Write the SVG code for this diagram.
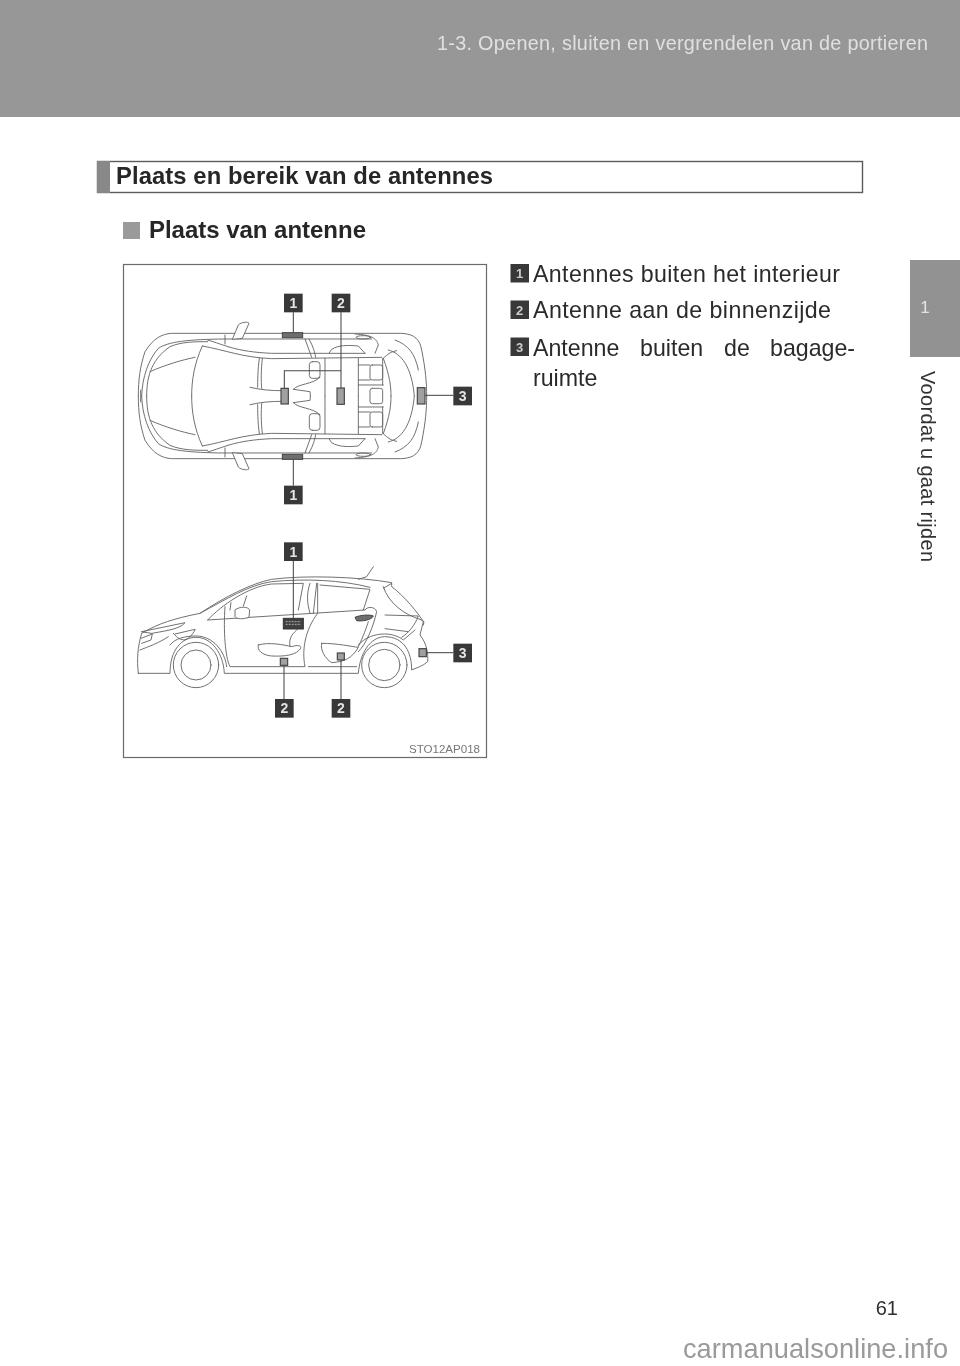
<svg xmlns="http://www.w3.org/2000/svg" xmlns:xlink="http://www.w3.org/1999/xlink" width="960" height="1366" viewBox="0 0 960 1366">
<style>
text{font-family:"Liberation Sans",Arial,sans-serif}
.ln{fill:none;stroke:#666;stroke-width:2.8;stroke-linejoin:round;stroke-linecap:round}
.wh{fill:#fff;stroke:#666;stroke-width:2.8;stroke-linejoin:round}
.ant{fill:#a0a0a0;stroke:#444;stroke-width:3.5}
.antd{fill:#6e6e6e;stroke:#444;stroke-width:3}
.lead{fill:none;stroke:#4a4a4a;stroke-width:3.2}
.bx{fill:#383838}
.bn{fill:#e4e4e4;font-weight:700;font-size:42px;text-anchor:middle}
.li{font-size:23.2px;fill:#2b2b2b}
.ln-num{fill:#ccc;font-weight:700;font-size:13px;text-anchor:middle}
</style>
<defs>
<filter id="soft" x="-5%" y="-5%" width="110%" height="110%"><feGaussianBlur stdDeviation="0.5"/></filter>
<g id="half">
<path class="ln" d="M40,378C40,330 45,290 60,245C85,205 110,192 140,190L830,190C870,192 885,210 890,240C902,300 905,340 905,378"/>
<path class="ln" d="M50,378C52,320 70,270 100,235C130,215 190,208 300,207L740,207"/>
<path class="ln" d="M65,378C65,310 85,265 135,230C170,215 210,215 248,215"/>
<path class="ln" d="M75,305C120,285 170,270 210,262"/>
<path class="ln" d="M232,228C208,280 200,330 200,378"/>
<path class="ln" d="M248,210C300,225 330,245 440,250L720,250"/>
<path class="ln" d="M232,228C300,240 350,262 440,266L770,262"/>
<path class="ln" d="M540,207L560,262M552,207C565,230 570,250 572,262"/>
<path class="ln" d="M300,195L300,222"/>
<path class="wh" d="M322,208L340,165C350,155 372,155 372,160L352,205Z"/>
<path class="ln" d="M403,265C398,300 398,335 398,352M412,265C408,300 408,335 410,355"/>
<path class="ln" d="M600,265L600,378M700,265L700,378M775,265C795,320 798,350 798,378"/>
<rect class="ln" x="553" y="275" width="32" height="50" rx="9"/>
<path class="ln" d="M585,322C560,345 520,340 505,358M375,352C410,360 440,362 470,362M505,358L555,365C556,370 556,375 556,378"/>
<rect class="ln" x="735" y="285" width="38" height="45" rx="7"/>
<path class="ln" d="M735,285L700,285M735,330L700,330M700,345L775,345M773,265L773,345"/>
<path class="ln" d="M810,210C850,225 870,250 880,300M790,240C830,250 860,290 868,378M775,265C790,250 800,245 815,242"/>
<ellipse class="ln" cx="715" cy="202" rx="22" ry="5"/>
<path class="ln" d="M690,192C740,195 755,205 760,225L750,250M720,250L700,228C670,225 640,225 620,238L612,250"/>
</g>
</defs>
<g filter="url(#soft)">
<g id="page">
<rect x="0" y="0" width="960" height="117" fill="#979797"/>
<rect x="910" y="260" width="50" height="97" fill="#929292"/>
<text x="437" y="50" font-size="19.8" fill="#e0e0e0" textLength="491">1-3. Openen, sluiten en vergrendelen van de portieren</text>
<text x="925" y="313" font-size="17" fill="#e4e4e4" text-anchor="middle">1</text>
<text transform="translate(921,371) rotate(90)" font-size="20" fill="#333" textLength="191">Voordat u gaat rijden</text>
<text x="898" y="1315" font-size="20" fill="#2e2e2e" text-anchor="end">61</text>
<text x="683" y="1358" font-size="27.2" fill="#9a9a9a" textLength="265">carmanualsonline.info</text>
</g>
<g id="heading">
<rect x="97.500" y="161.500" width="765" height="31" fill="#fff" stroke="#5c5c5c" stroke-width="1.400"/>
<rect x="97" y="161" width="13" height="32" fill="#888"/>
<text x="116" y="184" font-size="23.8" font-weight="700" fill="#262626" textLength="377">Plaats en bereik van de antennes</text>
<rect x="123" y="222" width="17" height="17" fill="#9a9a9a"/>
<text x="149" y="238" font-size="24" font-weight="700" fill="#262626" textLength="217">Plaats van antenne</text>
</g>
<g id="legend">
<g id="legend-1"><rect class="bx" x="510.500" y="264" width="18.500" height="18.500"/><text class="ln-num" x="519.700" y="278">1</text><text class="li" x="533" y="281.500" textLength="307">Antennes buiten het interieur</text></g>
<g id="legend-2"><rect class="bx" x="510.500" y="300.500" width="18.500" height="18.500"/><text class="ln-num" x="519.700" y="314.500">2</text><text class="li" x="533" y="318" textLength="298">Antenne aan de binnenzijde</text></g>
<g id="legend-3"><rect class="bx" x="510.500" y="337.500" width="18.500" height="18.500"/><text class="ln-num" x="519.700" y="351.500">3</text>
<text class="li" x="533" y="355.500">Antenne</text><text class="li" x="640" y="355.500">buiten</text><text class="li" x="724" y="355.500">de</text><text class="li" x="770" y="355.500">bagage-</text>
<text class="li" x="533" y="386">ruimte</text></g>
</g>
<rect id="frame" x="123.500" y="264.500" width="363" height="493" fill="#fff" stroke="#6a6a6a" stroke-width="1.200"/>
<g id="car-top" transform="translate(125,270) scale(0.33333)">
<use xlink:href="#half" href="#half"/>
<use xlink:href="#half" href="#half" transform="translate(0,756) scale(1,-1)"/>
<rect class="ln" x="735" y="355" width="38" height="46" rx="7"/>
<path class="ln" d="M47,360L47,396"/>
<rect class="ant" x="468" y="355" width="22" height="47"/>
<rect class="ant" x="636" y="354" width="22" height="49"/>
<rect class="ant" x="877" y="353" width="23" height="49"/>
<rect class="antd" x="472" y="188" width="61" height="15"/>
<rect class="antd" x="472" y="553" width="61" height="15"/>
</g>
<g id="car-side" transform="translate(125,530) scale(0.33333)">
<path class="ln" d="M40,430L135,430C135,360 170,322 213,322C260,322 295,370 298,430L700,430C705,370 735,322 778,320C840,320 860,370 860,420C870,415 895,408 908,395C910,370 905,340 885,315L895,275C880,250 840,200 800,170L800,158C700,140 540,135 440,148C380,160 300,200 225,250C150,265 100,280 50,310C38,350 35,390 40,430Z"/>
<path class="ln" d="M225,250C300,210 370,165 440,155C540,145 650,150 735,172"/>
<path class="ln" d="M248,270C290,225 370,170 440,162L535,160L520,240"/>
<path class="ln" d="M248,270L720,240C725,230 750,228 755,245C745,290 725,340 700,365"/>
<path class="ln" d="M585,165L735,178L715,240M575,160L565,250M555,160C545,190 545,215 555,250"/>
<path class="ln" d="M300,230C295,300 300,380 315,410L540,410C530,360 540,300 578,250L578,160"/>
<path class="ln" d="M550,410L695,410"/>
<path class="ln" d="M50,305L180,278C165,300 100,305 82,310ZM48,325L82,312L78,330L50,340M145,310C170,340 190,335 210,300M150,312L210,298"/>
<path class="ln" d="M45,360C70,350 100,340 130,320M135,345C150,325 180,318 213,318C265,318 300,365 305,410"/>
<path class="ln" d="M700,345C720,322 750,312 778,312C800,312 820,318 835,330L870,300M780,255L880,258C870,285 850,310 830,322M780,296L850,305"/>
<path class="ln" d="M775,170C790,220 840,255 885,268M800,160L775,175M885,268L897,275L895,285"/>
<path class="ln" d="M700,148L725,140L745,110"/>
<circle class="ln" cx="213" cy="405" r="68"/><circle class="ln" cx="213" cy="405" r="45"/>
<circle class="ln" cx="778" cy="405" r="68"/><circle class="ln" cx="778" cy="405" r="47"/>
<path class="wh" d="M330,240C345,228 370,230 374,240L372,262C355,268 335,268 330,260Z"/>
<path class="ln" d="M315,240L318,218M355,228L365,198"/>
<path class="antd" d="M690,262C705,255 735,253 745,258C740,270 710,275 695,272Z"/>
<path class="ln" d="M400,345C430,335 480,345 500,350C515,345 530,345 527,355C515,375 480,380 440,378C410,375 395,360 400,345Z"/>
<path class="ln" d="M495,350C490,320 505,310 520,295"/>
<path class="ln" d="M590,340C640,340 680,350 700,352C680,385 660,395 620,398C600,385 585,360 590,340Z"/>
<path class="ln" d="M700,350C715,320 725,290 730,275"/>
<rect x="475" y="265" width="60" height="32" fill="#404040" stroke="#333" stroke-width="3"/>
<path d="M482,275H528M482,283H528" stroke="#aaa" stroke-width="3" stroke-dasharray="6 3" fill="none"/>
<rect class="ant" x="466" y="385" width="22" height="21"/>
<rect class="ant" x="637" y="369" width="21" height="21"/>
<rect class="ant" x="882" y="356" width="22" height="24"/>
</g>
<text id="code" x="409" y="752.500" font-size="11.600" fill="#777" textLength="71">STO12AP018</text>
<g id="connectors" transform="translate(125,270) scale(0.33333)">
<path class="lead" d="M505,127V188"/>
<path class="lead" d="M648,127V354M648,302H478V355"/>
<path class="lead" d="M900,376H985"/>
<path class="lead" d="M505,568V647"/>
<path class="lead" d="M505,873V1045"/>
<path class="lead" d="M477,1186V1287"/>
<path class="lead" d="M648,1170V1287"/>
<path class="lead" d="M904,1148H985"/>
</g>
<g transform="translate(125,270) scale(0.33333)">
<g id="top-1a"><rect class="bx" x="477" y="71" width="56" height="56"/><text class="bn" x="505" y="114">1</text></g>
<g id="top-2"><rect class="bx" x="620" y="71" width="56" height="56"/><text class="bn" x="648" y="114">2</text></g>
<g id="top-3"><rect class="bx" x="985" y="350" width="56" height="56"/><text class="bn" x="1013" y="393">3</text></g>
<g id="top-1b"><rect class="bx" x="477" y="647" width="56" height="56"/><text class="bn" x="505" y="690">1</text></g>
<g id="side-1"><rect class="bx" x="477" y="817" width="56" height="56"/><text class="bn" x="505" y="860">1</text></g>
<g id="side-3"><rect class="bx" x="985" y="1121" width="56" height="56"/><text class="bn" x="1013" y="1164">3</text></g>
<g id="side-2a"><rect class="bx" x="450" y="1287" width="56" height="56"/><text class="bn" x="478" y="1330">2</text></g>
<g id="side-2b"><rect class="bx" x="620" y="1287" width="56" height="56"/><text class="bn" x="648" y="1330">2</text></g>
</g>
</g>
</svg>
